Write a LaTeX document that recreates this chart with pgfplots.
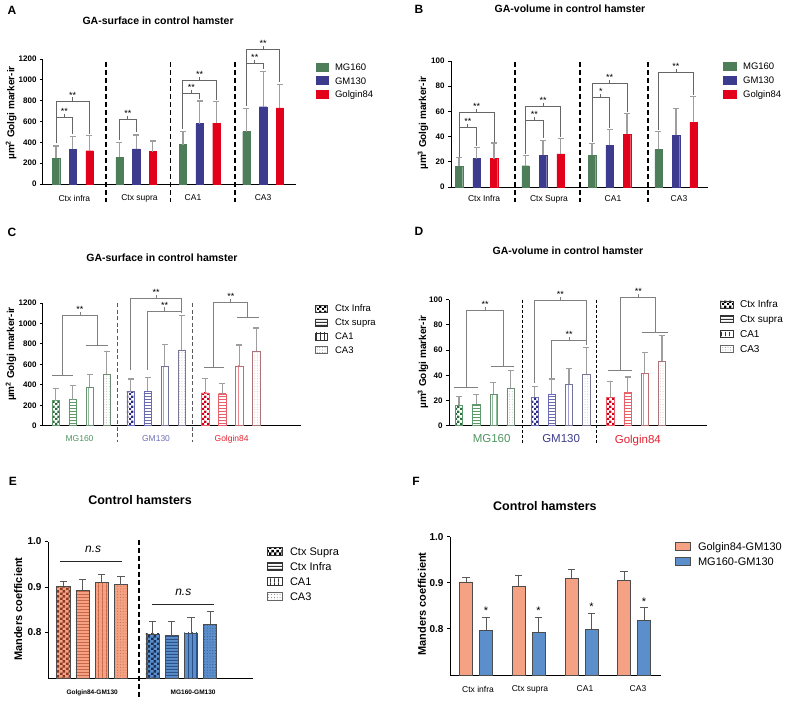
\documentclass[border=0pt]{standalone}
\usepackage{fontspec}
\setmainfont{Liberation Sans}
\usepackage{pgfplots}
\pgfplotsset{compat=1.18}
\usetikzlibrary{patterns}

\newcommand{\fs}[1]{\fontsize{#1}{#1}\selectfont}

% ---------- patterns ----------
\pgfdeclarepatternformonly{chk}{\pgfpointorigin}{\pgfqpoint{4.6pt}{4.6pt}}{\pgfqpoint{4.6pt}{4.6pt}}{%
 \pgfpathrectangle{\pgfpointorigin}{\pgfqpoint{2.3pt}{2.3pt}}%
 \pgfpathrectangle{\pgfqpoint{2.3pt}{2.3pt}}{\pgfqpoint{2.3pt}{2.3pt}}%
 \pgfusepath{fill}}
\pgfdeclarepatternformonly{chkE}{\pgfpointorigin}{\pgfqpoint{5.4pt}{5.4pt}}{\pgfqpoint{5.4pt}{5.4pt}}{%
 \pgfpathrectangle{\pgfpointorigin}{\pgfqpoint{2.7pt}{2.7pt}}%
 \pgfpathrectangle{\pgfqpoint{2.7pt}{2.7pt}}{\pgfqpoint{2.7pt}{2.7pt}}%
 \pgfusepath{fill}}
\pgfdeclarepatternformonly{hl}{\pgfpointorigin}{\pgfqpoint{2.8pt}{2.8pt}}{\pgfqpoint{2.8pt}{2.8pt}}{%
 \pgfpathrectangle{\pgfpointorigin}{\pgfqpoint{2.8pt}{1pt}}\pgfusepath{fill}}
\pgfdeclarepatternformonly{hlE}{\pgfpointorigin}{\pgfqpoint{3.3pt}{3.3pt}}{\pgfqpoint{3.3pt}{3.3pt}}{%
 \pgfpathrectangle{\pgfpointorigin}{\pgfqpoint{3.3pt}{1.2pt}}\pgfusepath{fill}}
\pgfdeclarepatternformonly{vl}{\pgfpointorigin}{\pgfqpoint{4.4pt}{4.4pt}}{\pgfqpoint{4.4pt}{4.4pt}}{%
 \pgfpathrectangle{\pgfpointorigin}{\pgfqpoint{0.9pt}{4.4pt}}\pgfusepath{fill}}
\pgfdeclarepatternformonly{vlE}{\pgfpointorigin}{\pgfqpoint{4.3pt}{4.3pt}}{\pgfqpoint{4.3pt}{4.3pt}}{%
 \pgfpathrectangle{\pgfpointorigin}{\pgfqpoint{1.1pt}{4.3pt}}\pgfusepath{fill}}
\pgfdeclarepatternformonly{dt}{\pgfqpoint{-0.5pt}{-0.5pt}}{\pgfqpoint{0.5pt}{0.5pt}}{\pgfqpoint{2.6pt}{2.6pt}}{%
 \pgfpathcircle{\pgfpointorigin}{0.45pt}\pgfusepath{fill}}
\pgfdeclarepatternformonly{dtE}{\pgfqpoint{-0.6pt}{-0.6pt}}{\pgfqpoint{0.6pt}{0.6pt}}{\pgfqpoint{2.8pt}{2.8pt}}{%
 \pgfpathcircle{\pgfpointorigin}{0.5pt}\pgfusepath{fill}}

% ---------- colours ----------
\definecolor{cMG}{HTML}{4E7D5A}
\definecolor{cGM}{HTML}{3D3B8E}
\definecolor{cGo}{HTML}{E2001A}
\definecolor{cOr}{HTML}{F4A283}
\definecolor{cOrD}{HTML}{8A3A22}
\definecolor{cOrM}{HTML}{C8674A}
\definecolor{cBl}{HTML}{5B8FCB}
\definecolor{cBlD}{HTML}{1B2F55}
\definecolor{cBlM}{HTML}{2C5088}
% C/D pattern colours
\definecolor{mgA}{HTML}{2F6B40}\definecolor{mgB}{HTML}{5E9A6C}\definecolor{mgC}{HTML}{8FBE9A}\definecolor{mgD}{HTML}{A8B8AB}
\definecolor{gmA}{HTML}{2E2C7E}\definecolor{gmB}{HTML}{6B6BB3}\definecolor{gmC}{HTML}{A0A0D4}\definecolor{gmD}{HTML}{B8B8CC}
\definecolor{goA}{HTML}{D40019}\definecolor{goB}{HTML}{E8606A}\definecolor{goC}{HTML}{EC8890}\definecolor{goD}{HTML}{D8B8B8}
\definecolor{lMG}{HTML}{4E9460}\definecolor{lGM}{HTML}{6E6EB8}\definecolor{lGo}{HTML}{E3212F}

\pgfplotsset{
  panel/.style={
    scale only axis, anchor=south west, clip mode=individual,
    axis x line*=bottom, axis y line*=left,
    axis line style={line width=1pt, black},
    tick align=outside, major tick length=3pt,
    ytick style={line width=0.9pt, black},
    xtick style={draw=none},
    /pgf/number format/assume math mode=true,
    /pgf/number format/1000 sep={},
    legend cell align=left,
  },
  ebGray/.style={error bars/y dir=plus, error bars/y explicit,
    error bars/error bar style={black!38, line width=1.2pt},
    error bars/error mark options={rotate=90, black!38, line width=1.2pt, mark size=3pt}},
  ebDark/.style={error bars/y dir=plus, error bars/y explicit,
    error bars/error bar style={black!65, line width=0.9pt},
    error bars/error mark options={rotate=90, black!65, line width=0.9pt, mark size=3.6pt}},
}

\tikzset{
  brkA/.style={draw=black!60, line width=0.9pt},
  brkC/.style={draw=black!50, line width=0.9pt},
  sepA/.style={black, line width=1.6pt, dash pattern=on 5pt off 3pt},
  sepC/.style={black!65, line width=1pt, dash pattern=on 4pt off 2.5pt},
  sepD/.style={black, line width=0.9pt, dash pattern=on 3pt off 2pt},
}

% bracket: style, x1, y1(bottom of left leg), x2, y2(bottom of right leg), level, label
\newcommand{\brk}[7]{%
 \pgfmathsetmacro{\bm}{(#2+#4)/2}%
 \edef\brktmp{\noexpand\draw[#1] (axis cs:#2,#3) -- (axis cs:#2,#6) -- (axis cs:#4,#6) -- (axis cs:#4,#5);%
 \noexpand\draw[#1] (axis cs:\bm,#6) -- ++(0pt,3.5pt) node[anchor=south,inner sep=0pt,yshift=-1pt,font=\noexpand\fs{9},text=black]{#7};}%
 \brktmp}
% patterned bar: style, fill, pattern, pattern colour, draw, x, y, err
\newcommand{\pb}[8]{%
 \addplot[#1, fill=#2, draw=#5, postaction={pattern=#3, pattern color=#4}] coordinates {(#6,#7) +- (0,#8)};}

\begin{document}
\begin{tikzpicture}
\useasboundingbox (0,0) rectangle (787pt,-701pt);

% panel letters
\node[font=\fs{12}\bfseries] at (12pt,-10pt) {A};
\node[font=\fs{12}\bfseries] at (419pt,-9pt) {B};
\node[font=\fs{12}\bfseries] at (12pt,-232pt) {C};
\node[font=\fs{12}\bfseries] at (419pt,-231pt) {D};
\node[font=\fs{12}\bfseries] at (13pt,-481pt) {E};
\node[font=\fs{12}\bfseries] at (416pt,-481pt) {F};

% ================= A =================
\begin{axis}[panel, at={(43pt,-184pt)}, width=253pt, height=125pt,
  xmin=0.22, xmax=15.37, ymin=0, ymax=1200, ytick={0,200,...,1200},
  yticklabel style={font=\fs{8}\bfseries},
  xtick={2.1,6.0,9.2,13.4}, xticklabels={Ctx infra,Ctx supra,CA1,CA3},
  xticklabel style={font=\fs{8.5}, yshift=-4.5pt},
  ylabel={µm\textsuperscript{2} Golgi marker-ir},
  ylabel style={at={(axis description cs:-0.126,0.568)}, anchor=center, font=\fs{10}\bfseries},
  title={GA-surface in control hamster},
  title style={at={(axis description cs:0.455,1.312)}, anchor=center, yshift=-7pt, font=\fs{10.5}\bfseries},
  legend image code/.code={\draw[#1] (0pt,-4pt) rectangle (12pt,4pt);},
  legend style={at={(axis description cs:1.079,0.9826)}, anchor=north west, draw=none, fill=none,
    inner sep=0pt, row sep=1.86pt, font=\fs{9.5},
    nodes={inner sep=0.5pt, text height=8.7pt, text depth=1.9pt},
    /tikz/every odd column/.append style={column sep=6pt}},
  bA/.style={ybar, bar shift=0pt, bar width=0.44, forget plot, line width=0.3pt, ebGray},
]
\addlegendimage{fill=cMG, draw=cMG}\addlegendentry{MG160}
\addlegendimage{fill=cGM, draw=cGM}\addlegendentry{GM130}
\addlegendimage{fill=cGo, draw=cGo}\addlegendentry{Golgin84}
\addplot[bA, fill=cMG, draw=cMG] coordinates {(1,245) +- (0,120) (4.8,256) +- (0,139) (8.6,378) +- (0,125) (12.4,503) +- (0,225)};
\addplot[bA, fill=cGM, draw=cGM] coordinates {(2,334) +- (0,122) (5.8,338) +- (0,132) (9.6,580) +- (0,217) (13.4,742) +- (0,338)};
\addplot[bA, fill=cGo, draw=cGo] coordinates {(3,320) +- (0,143) (6.8,312) +- (0,100) (10.6,585) +- (0,205) (14.4,730) +- (0,225)};
\draw[sepA] (axis cs:4.0,1170) -- ([yshift=-18pt]axis cs:4.0,0);
\draw[sepA] (axis cs:7.85,1170) -- ([yshift=-18pt]axis cs:7.85,0);
\draw[sepA] (axis cs:11.7,1170) -- ([yshift=-18pt]axis cs:11.7,0);
\brk{brkA}{1}{390}{2}{480}{636}{**}
\brk{brkA}{1}{636}{3}{478}{797}{**}
\brk{brkA}{4.8}{420}{5.8}{495}{621}{**}
\brk{brkA}{8.6}{530}{9.6}{815}{867}{**}
\brk{brkA}{8.6}{867}{10.6}{810}{998}{**}
\brk{brkA}{12.4}{750}{13.4}{1100}{1161}{**}
\brk{brkA}{12.4}{1161}{14.4}{975}{1293}{**}
\end{axis}

% ================= B =================
\begin{axis}[panel, at={(451pt,-187pt)}, width=257pt, height=126pt,
  xmin=0.54, xmax=15.23, ymin=0, ymax=100, ytick={0,20,...,100},
  yticklabel style={font=\fs{8}\bfseries},
  xtick={2.43,6.14,9.8,13.57}, xticklabels={Ctx Infra,Ctx Supra,CA1,CA3},
  xticklabel style={font=\fs{8.5}, yshift=-2pt},
  ylabel={µm\textsuperscript{3} Golgi marker-ir},
  ylabel style={at={(axis description cs:-0.109,0.508)}, anchor=center, font=\fs{10}\bfseries},
  title={GA-volume in control hamster},
  title style={at={(axis description cs:0.463,1.421)}, anchor=center, yshift=-7pt, font=\fs{10.5}\bfseries},
  legend image code/.code={\draw[#1] (0pt,-4pt) rectangle (13pt,4pt);},
  legend style={at={(axis description cs:1.0584,1.0065)}, anchor=north west, draw=none, fill=none,
    inner sep=0pt, row sep=2.36pt, font=\fs{9.5},
    nodes={inner sep=0.5pt, text height=8.7pt, text depth=1.9pt},
    /tikz/every odd column/.append style={column sep=6pt}},
  bB/.style={ybar, bar shift=0pt, bar width=0.42, forget plot, line width=0.3pt, ebGray},
]
\addlegendimage{fill=cMG, draw=cMG}\addlegendentry{MG160}
\addlegendimage{fill=cGM, draw=cGM}\addlegendentry{GM130}
\addlegendimage{fill=cGo, draw=cGo}\addlegendentry{Golgin84}
\addplot[bB, fill=cMG, draw=cMG] coordinates {(1,16.3) +- (0,6.8) (4.8,16.9) +- (0,7.9) (8.6,25.1) +- (0,9.4) (12.4,29.8) +- (0,14.0)};
\addplot[bB, fill=cGM, draw=cGM] coordinates {(2,22.6) +- (0,8.6) (5.8,25.1) +- (0,11.9) (9.6,33.1) +- (0,12.6) (13.4,41.0) +- (0,21.2)};
\addplot[bB, fill=cGo, draw=cGo] coordinates {(3,22.6) +- (0,12.4) (6.8,26.3) +- (0,12.3) (10.6,41.8) +- (0,16.5) (14.4,51.2) +- (0,20.6)};
\draw[sepA] (axis cs:4.2,99) -- ([yshift=-15pt]axis cs:4.2,0);
\draw[sepA] (axis cs:7.91,99) -- ([yshift=-15pt]axis cs:7.91,0);
\draw[sepA] (axis cs:11.8,99) -- ([yshift=-15pt]axis cs:11.8,0);
\brk{brkA}{1}{24}{2}{32.5}{47}{**}
\brk{brkA}{1}{47}{3}{36}{59.5}{**}
\brk{brkA}{4.8}{26}{5.8}{38.5}{52.5}{**}
\brk{brkA}{4.8}{52.5}{6.8}{40}{64}{**}
\brk{brkA}{8.6}{36}{9.6}{47}{71}{*}
\brk{brkA}{8.6}{71}{10.6}{59.5}{82}{**}
\brk{brkA}{12.4}{45}{14.4}{73}{91}{**}
\end{axis}

% ================= C =================
\begin{axis}[panel, at={(43pt,-425.7pt)}, width=258pt, height=122.7pt,
  xmin=0.25, xmax=15.43, ymin=0, ymax=1200, ytick={0,200,...,1200},
  yticklabel style={font=\fs{8}\bfseries},
  xtick={2.4,6.9,11.35}, xticklabels={\textcolor{lMG}{MG160},\textcolor{lGM}{GM130},\textcolor{lGo}{Golgin84}},
  xticklabel style={font=\fs{8.5}, yshift=-3.5pt},
  ylabel={µm\textsuperscript{2} Golgi marker-ir},
  ylabel style={at={(axis description cs:-0.124,0.584)}, anchor=center, font=\fs{10}\bfseries},
  title={GA-surface in control hamster},
  title style={at={(axis description cs:0.461,1.375)}, anchor=center, yshift=-7pt, font=\fs{10.5}\bfseries},
  legend image code/.code={\draw[#1] (0pt,-3.5pt) rectangle (12pt,3.5pt);},
  legend style={at={(axis description cs:1.0543,1.004)}, anchor=north west, draw=none, fill=none,
    inner sep=0pt, row sep=2.26pt, font=\fs{9.5},
    nodes={inner sep=0.5pt, text height=8.7pt, text depth=1.9pt},
    /tikz/every odd column/.append style={column sep=7pt}},
  bC/.style={ybar, bar shift=0pt, bar width=0.43, forget plot, line width=0.5pt, ebGray},
]
\addlegendimage{fill=white, draw=black!80, postaction={pattern=chk, pattern color=black}}\addlegendentry{Ctx Infra}
\addlegendimage{fill=white, draw=black!80, postaction={pattern=hl, pattern color=black!80}}\addlegendentry{Ctx supra}
\addlegendimage{fill=white, draw=black!80, postaction={pattern=vl, pattern color=black!80}}\addlegendentry{CA1}
\addlegendimage{fill=white, draw=black!60, postaction={pattern=dt, pattern color=black!50}}\addlegendentry{CA3}
\pb{bC}{white}{chk}{mgA}{mgB}{1}{245}{120}
\pb{bC}{white}{hl}{mgB}{mgB}{2}{256}{139}
\pb{bC}{white}{vl}{mgC}{mgB!60!gray}{3}{378}{125}
\pb{bC}{white}{dt}{mgD}{mgB!40!gray}{4}{503}{225}
\pb{bC}{white}{chk}{gmA}{gmB}{5.4}{334}{122}
\pb{bC}{white}{hl}{gmB}{gmB}{6.4}{338}{132}
\pb{bC}{white}{vl}{gmC}{gmB!60!gray}{7.4}{580}{217}
\pb{bC}{white}{dt}{gmD}{gmB!40!gray}{8.4}{742}{338}
\pb{bC}{white}{chk}{goA}{goB}{9.8}{320}{143}
\pb{bC}{white}{hl}{goB}{goB}{10.8}{312}{100}
\pb{bC}{white}{vl}{goC}{goB!60!gray}{11.8}{585}{205}
\pb{bC}{white}{dt}{goD}{goB!40!gray}{12.8}{730}{225}
\draw[sepC] (axis cs:4.65,1197) -- ([yshift=-16pt]axis cs:4.65,0);
\draw[sepC] (axis cs:9.05,1197) -- ([yshift=-16pt]axis cs:9.05,0);
\draw[brkC] (axis cs:0.8,488) -- (axis cs:2.0,488);
\draw[brkC] (axis cs:2.8,787) -- (axis cs:4.1,787);
\brk{brkC}{1.4}{488}{3.45}{787}{1076}{**}
\brk{brkC}{5.4}{545}{8.4}{1100}{1242}{**}
\brk{brkC}{6.4}{545}{8.4}{1122}{1122}{**}
\draw[brkC] (axis cs:9.73,567) -- (axis cs:10.9,567);
\draw[brkC] (axis cs:11.66,1060) -- (axis cs:12.97,1060);
\brk{brkC}{10.3}{567}{12.3}{1060}{1207}{**}
\end{axis}

% ================= D =================
\begin{axis}[panel, at={(449pt,-425.7pt)}, width=258pt, height=126pt,
  xmin=0.42, xmax=15.42, ymin=0, ymax=100, ytick={0,20,...,100},
  yticklabel style={font=\fs{8}\bfseries},
  xtick={2.9,6.94,11.4}, xticklabels={\textcolor{lMG}{MG160},\textcolor{cGM}{GM130},\textcolor{lGo}{Golgin84}},
  xticklabel style={font=\fs{11.5}, yshift=-2.5pt},
  ylabel={µm\textsuperscript{3} Golgi marker-ir},
  ylabel style={at={(axis description cs:-0.101,0.506)}, anchor=center, font=\fs{10}\bfseries},
  title={GA-volume in control hamster},
  title style={at={(axis description cs:0.461,1.394)}, anchor=center, yshift=-7pt, font=\fs{10.5}\bfseries},
  legend image code/.code={\draw[#1] (0pt,-3.5pt) rectangle (13pt,3.5pt);},
  legend style={at={(axis description cs:1.0504,1.0143)}, anchor=north west, draw=none, fill=none,
    inner sep=0pt, row sep=2.6pt, font=\fs{10},
    nodes={inner sep=0.5pt, text height=9.2pt, text depth=2pt},
    /tikz/every odd column/.append style={column sep=6pt}},
  bD/.style={ybar, bar shift=0pt, bar width=0.42, forget plot, line width=0.5pt, ebGray},
]
\addlegendimage{fill=white, draw=black!80, postaction={pattern=chk, pattern color=black}}\addlegendentry{Ctx Infra}
\addlegendimage{fill=white, draw=black!80, postaction={pattern=hl, pattern color=black!80}}\addlegendentry{Ctx supra}
\addlegendimage{fill=white, draw=black!80, postaction={pattern=vl, pattern color=black!80}}\addlegendentry{CA1}
\addlegendimage{fill=white, draw=black!60, postaction={pattern=dt, pattern color=black!50}}\addlegendentry{CA3}
\pb{bD}{white}{chk}{mgA}{mgB}{1}{16.3}{6.8}
\pb{bD}{white}{hl}{mgB}{mgB}{2}{16.9}{7.9}
\pb{bD}{white}{vl}{mgC}{mgB!60!gray}{3}{25.1}{9.4}
\pb{bD}{white}{dt}{mgD}{mgB!40!gray}{4}{29.8}{14.0}
\pb{bD}{white}{chk}{gmA}{gmB}{5.4}{22.6}{8.6}
\pb{bD}{white}{hl}{gmB}{gmB}{6.4}{25.1}{11.9}
\pb{bD}{white}{vl}{gmC}{gmB!60!gray}{7.4}{33.1}{12.6}
\pb{bD}{white}{dt}{gmD}{gmB!40!gray}{8.4}{41.0}{21.2}
\pb{bD}{white}{chk}{goA}{goB}{9.8}{22.6}{12.4}
\pb{bD}{white}{hl}{goB}{goB}{10.8}{26.3}{12.3}
\pb{bD}{white}{vl}{goC}{goB!60!gray}{11.8}{41.8}{16.5}
\pb{bD}{white}{dt}{goD}{goB!40!gray}{12.8}{51.2}{20.6}
\draw[sepD] (axis cs:4.7,99.8) -- ([yshift=-17pt]axis cs:4.7,0);
\draw[sepD] (axis cs:9.0,99.8) -- ([yshift=-17pt]axis cs:9.0,0);
\draw[brkC] (axis cs:0.71,30) -- (axis cs:2.1,30);
\draw[brkC] (axis cs:2.86,47) -- (axis cs:4.2,47);
\brk{brkC}{1.45}{30}{3.6}{47}{91.3}{**}
\brk{brkC}{5.4}{34}{8.4}{64}{99.7}{**}
\brk{brkC}{6.4}{38}{8.4}{68}{68}{**}
\draw[brkC] (axis cs:9.66,43.5) -- (axis cs:11.06,43.5);
\draw[brkC] (axis cs:11.64,74) -- (axis cs:13.15,74);
\brk{brkC}{10.4}{43.5}{12.45}{74}{101.9}{**}
\end{axis}

% ================= E =================
\begin{axis}[panel, at={(48pt,-678pt)}, width=205pt, height=136.5pt,
  xmin=0.2, xmax=10.88, ymin=0.7, ymax=1.0, ytick={0.8,0.9,1.0},
  yticklabel style={font=\fs{10}\bfseries, /pgf/number format/fixed, /pgf/number format/fixed zerofill, /pgf/number format/precision=1},
  xtick={2.5,7.76}, xticklabels={Golgin84-GM130,MG160-GM130},
  xticklabel style={font=\fs{6.5}\bfseries, yshift=-5.5pt},
  ylabel={Manders coefficient},
  ylabel style={at={(axis description cs:-0.146,0.505)}, anchor=center, font=\fs{11}\bfseries},
  title={Control hamsters},
  title style={at={(axis description cs:0.449,1.311)}, anchor=center, yshift=-7pt, font=\fs{12.5}\bfseries},
  legend image code/.code={\draw[#1] (0pt,-4pt) rectangle (15pt,4pt);},
  legend style={at={(axis description cs:1.068,0.979)}, anchor=north west, draw=none, fill=none,
    inner sep=0pt, row sep=1.68pt, font=\fs{11},
    nodes={inner sep=0.5pt, text height=10.1pt, text depth=2.2pt},
    /tikz/every odd column/.append style={column sep=7pt}},
  bE/.style={ybar, bar shift=0pt, bar width=0.69, forget plot, line width=0.7pt, ebDark},
]
\addlegendimage{fill=white, draw=black!80, postaction={pattern=chkE, pattern color=black}}\addlegendentry{Ctx Supra}
\addlegendimage{fill=white, draw=black!80, postaction={pattern=hlE, pattern color=black!80}}\addlegendentry{Ctx Infra}
\addlegendimage{fill=white, draw=black!80, postaction={pattern=vlE, pattern color=black!80}}\addlegendentry{CA1}
\addlegendimage{fill=white, draw=black!60, postaction={pattern=dtE, pattern color=black!50}}\addlegendentry{CA3}
\pb{bE}{cOr}{chkE}{cOrD}{black!70}{1}{0.902}{0.010}
\pb{bE}{cOr}{hlE}{cOrM}{black!70}{2}{0.893}{0.024}
\pb{bE}{cOr}{vlE}{cOrM}{black!70}{3}{0.910}{0.018}
\pb{bE}{cOr}{dtE}{cOrM}{black!70}{4}{0.905}{0.019}
\pb{bE}{cBl}{chkE}{cBlD}{black!70}{5.65}{0.797}{0.028}
\pb{bE}{cBl}{hlE}{cBlM}{black!70}{6.65}{0.793}{0.032}
\pb{bE}{cBl}{vlE}{cBlM}{black!70}{7.65}{0.799}{0.035}
\pb{bE}{cBl}{dtE}{cBlM}{black!70}{8.65}{0.819}{0.027}
\draw[sepA] (axis cs:4.94,1.003) -- ([yshift=-20pt]axis cs:4.94,0.7);
\draw[black!85, line width=1pt] (axis cs:0.83,0.955) -- (axis cs:4.04,0.955);
\node[font=\fs{12}\itshape, anchor=base, yshift=9pt] at (axis cs:2.55,0.955) {n.s};
\draw[black!85, line width=1pt] (axis cs:5.6,0.862) -- (axis cs:8.85,0.862);
\node[font=\fs{12}\itshape, anchor=base, yshift=9pt] at (axis cs:7.25,0.862) {n.s};
\end{axis}

% ================= F =================
\begin{axis}[panel, at={(450pt,-675pt)}, width=211pt, height=138.3pt,
  xmin=0.2, xmax=10.75, ymin=0.7, ymax=1.0, ytick={0.8,0.9,1.0},
  yticklabel style={font=\fs{10}\bfseries, /pgf/number format/fixed, /pgf/number format/fixed zerofill, /pgf/number format/precision=1},
  xtick={1.6,4.2,6.95,9.6}, xticklabels={Ctx infra,Ctx supra,CA1,CA3},
  xticklabel style={font=\fs{8.5}, yshift=-4.5pt},
  ylabel={Manders coefficient},
  ylabel style={at={(axis description cs:-0.133,0.513)}, anchor=center, font=\fs{11}\bfseries},
  title={Control hamsters},
  title style={at={(axis description cs:0.450,1.229)}, anchor=center, yshift=-7pt, font=\fs{12.5}\bfseries},
  legend image code/.code={\draw[#1] (0pt,-4pt) rectangle (15pt,4pt);},
  legend style={at={(axis description cs:1.066,0.981)}, anchor=north west, draw=none, fill=none,
    inner sep=0pt, row sep=1.68pt, font=\fs{11},
    nodes={inner sep=0.5pt, text height=10.1pt, text depth=2.2pt},
    /tikz/every odd column/.append style={column sep=7pt}},
  bF/.style={ybar, bar shift=0pt, bar width=0.65, forget plot, line width=0.7pt, ebDark},
]
\addlegendimage{fill=cOr, draw=black!70}\addlegendentry{Golgin84-GM130}
\addlegendimage{fill=cBl, draw=black!70}\addlegendentry{MG160-GM130}
\addplot[bF, fill=cOr, draw=black!70] coordinates {(1,0.902) +- (0,0.010) (3.63,0.893) +- (0,0.024) (6.28,0.910) +- (0,0.018) (8.9,0.905) +- (0,0.019)};
\addplot[bF, fill=cBl, draw=black!70] coordinates {(2,0.797) +- (0,0.028) (4.63,0.793) +- (0,0.032) (7.28,0.799) +- (0,0.035) (9.9,0.819) +- (0,0.027)};
\node[font=\fs{11}, anchor=south, inner sep=0pt, yshift=2.5pt] at (axis cs:2,0.825) {*};
\node[font=\fs{11}, anchor=south, inner sep=0pt, yshift=2.5pt] at (axis cs:4.63,0.825) {*};
\node[font=\fs{11}, anchor=south, inner sep=0pt, yshift=2.5pt] at (axis cs:7.28,0.834) {*};
\node[font=\fs{11}, anchor=south, inner sep=0pt, yshift=2.5pt] at (axis cs:9.9,0.846) {*};
\end{axis}
\end{tikzpicture}
\end{document}
